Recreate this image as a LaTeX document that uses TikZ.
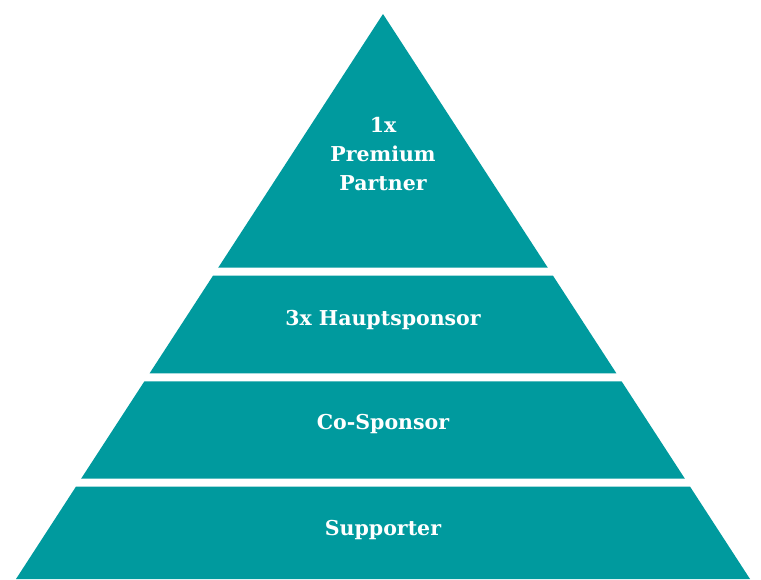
\documentclass[tikz,border=0pt]{standalone}
\usepackage{fontspec}
\setmainfont{DejaVu Serif}
\definecolor{teal}{RGB}{0,154,158}
\tikzset{
	layer/.style={fill=teal, draw=none},
	label/.style={text=white, font=\bfseries\fontsize{20.5}{29}\selectfont, align=center, inner sep=0pt}
}
\begin{document}
\begin{tikzpicture}[x=1pt, y=-1pt]
	\useasboundingbox (0,0) rectangle (761,579);

	\fill[layer] (383,14) -- (547.8,267.7) -- (218.2,267.7) -- cycle;
	\fill[layer] (213,275.7) -- (553,275.7) -- (616.4,373.3) -- (149.6,373.3) -- cycle;
	\fill[layer] (144.4,381.3) -- (621.6,381.3) -- (684.9,478.7) -- (81.1,478.7) -- cycle;
	\fill[layer] (75.9,486.7) -- (690.1,486.7) -- (750,579) -- (16,579) -- cycle;

	\node[label] (L1-T) at (383,154) {1x\\Premium\\Partner};
	\node[label] (L2-T) at (383,320) {3x Hauptsponsor};
	\node[label] (L3-T) at (383,424) {Co-Sponsor};
	\node[label] (L4-T) at (383,530) {Supporter};
\end{tikzpicture}
\end{document}
